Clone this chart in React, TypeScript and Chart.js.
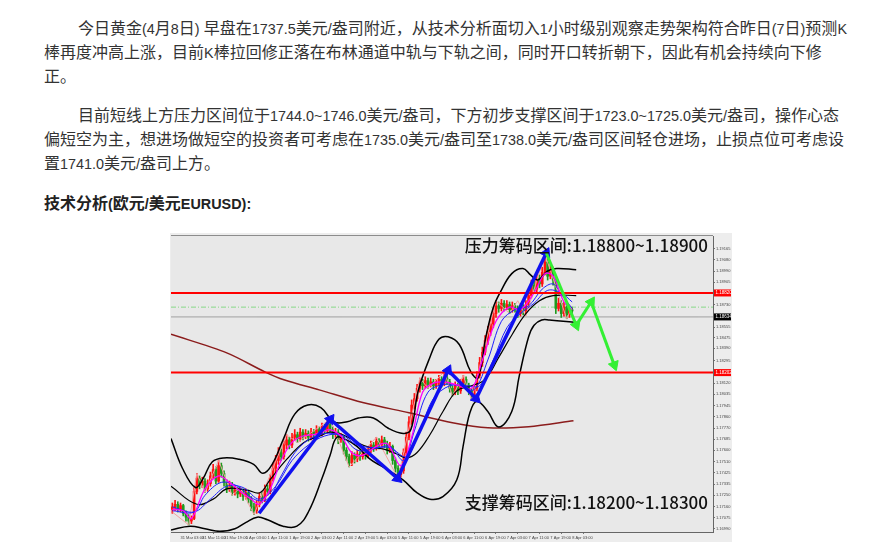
import React, { useEffect, useRef } from 'react';
import { Chart, registerables } from 'chart.js';

Chart.register(...registerables);

// ---------- page text ----------
const para1Lines = [
  '今日黄金(4月8日) 早盘在1737.5美元/盎司附近，从技术分析面切入1小时级别观察走势架构符合昨日(7日)预测K',
  '棒再度冲高上涨，目前K棒拉回修正落在布林通道中轨与下轨之间，同时开口转折朝下，因此有机会持续向下修',
  '正。',
];
const para2Lines = [
  '目前短线上方压力区间位于1744.0~1746.0美元/盎司，下方初步支撑区间于1723.0~1725.0美元/盎司，操作心态',
  '偏短空为主，想进场做短空的投资者可考虑在1735.0美元/盎司至1738.0美元/盎司区间轻仓进场，止损点位可考虑设',
  '置1741.0美元/盎司上方。',
];
const headingText = '技术分析(欧元/美元EURUSD):';
const resistanceText = '压力筹码区间:1.18800~1.18900';
const supportText = '支撑筹码区间:1.18200~1.18300';

// ---------- hourly candles (index 0 = 31 Mar 00:00) ----------
const candleOpen = [
  1.1714, 1.1716, 1.1718, 1.1714, 1.1717, 1.1711, 1.1708, 1.1705, 1.1707, 1.1728,
  1.1738, 1.1733, 1.1736, 1.1730, 1.1734, 1.1740, 1.1745, 1.1736, 1.1748, 1.1742,
  1.1735, 1.1730, 1.1733, 1.1727, 1.1729, 1.1726, 1.1728, 1.1724, 1.1727, 1.1722,
  1.1716, 1.1713, 1.1718, 1.1724, 1.1722, 1.1730, 1.1728, 1.1738, 1.1746, 1.1752,
  1.1758, 1.1755, 1.1764, 1.1768, 1.1764, 1.1770, 1.1772, 1.1769, 1.1774, 1.1771,
  1.1773, 1.1770, 1.1774, 1.1772, 1.1776, 1.1773, 1.1778, 1.1775, 1.1780, 1.1776,
  1.1772, 1.1774, 1.1768, 1.1770, 1.1760, 1.1755, 1.1750, 1.1756, 1.1753, 1.1757,
  1.1755, 1.1758, 1.1756, 1.1760, 1.1764, 1.1762, 1.1767, 1.1764, 1.1768, 1.1765,
  1.1760, 1.1763, 1.1752, 1.1746, 1.1741, 1.1744, 1.1758, 1.1770, 1.1782, 1.1795,
  1.1800, 1.1808, 1.1812, 1.1810, 1.1814, 1.1811, 1.1813, 1.1810, 1.1812, 1.1815,
  1.1812, 1.1816, 1.1813, 1.1808, 1.1805, 1.1810, 1.1806, 1.1812, 1.1815, 1.1810,
  1.1806, 1.1803, 1.1808, 1.1818, 1.1828, 1.1836, 1.1845, 1.1852, 1.1858, 1.1866,
  1.1872, 1.1870, 1.1874, 1.1871, 1.1873, 1.1869, 1.1872, 1.1870, 1.1866, 1.1871,
  1.1868, 1.1873, 1.1880, 1.1888, 1.1885, 1.1893, 1.1889, 1.1898, 1.1906, 1.1895,
  1.1900, 1.1892, 1.1870, 1.1874, 1.1866, 1.1871, 1.1865, 1.1869,
];
const candleClose = [
  1.1716, 1.1718, 1.1714, 1.1717, 1.1711, 1.1708, 1.1705, 1.1707, 1.1728, 1.1738,
  1.1733, 1.1736, 1.1730, 1.1734, 1.1740, 1.1745, 1.1736, 1.1748, 1.1742, 1.1735,
  1.1730, 1.1733, 1.1727, 1.1729, 1.1726, 1.1728, 1.1724, 1.1727, 1.1722, 1.1716,
  1.1713, 1.1718, 1.1724, 1.1722, 1.1730, 1.1728, 1.1738, 1.1746, 1.1752, 1.1758,
  1.1755, 1.1764, 1.1768, 1.1764, 1.1770, 1.1772, 1.1769, 1.1774, 1.1771, 1.1773,
  1.1770, 1.1774, 1.1772, 1.1776, 1.1773, 1.1778, 1.1775, 1.1780, 1.1776, 1.1772,
  1.1774, 1.1768, 1.1770, 1.1760, 1.1755, 1.1750, 1.1756, 1.1753, 1.1757, 1.1755,
  1.1758, 1.1756, 1.1760, 1.1764, 1.1762, 1.1767, 1.1764, 1.1768, 1.1765, 1.1760,
  1.1763, 1.1752, 1.1746, 1.1741, 1.1744, 1.1758, 1.1770, 1.1782, 1.1795, 1.1800,
  1.1808, 1.1812, 1.1810, 1.1814, 1.1811, 1.1813, 1.1810, 1.1812, 1.1815, 1.1812,
  1.1816, 1.1813, 1.1808, 1.1805, 1.1810, 1.1806, 1.1812, 1.1815, 1.1810, 1.1806,
  1.1803, 1.1808, 1.1818, 1.1828, 1.1836, 1.1845, 1.1852, 1.1858, 1.1866, 1.1872,
  1.1870, 1.1874, 1.1871, 1.1873, 1.1869, 1.1872, 1.1870, 1.1866, 1.1871, 1.1868,
  1.1873, 1.1880, 1.1888, 1.1885, 1.1893, 1.1889, 1.1898, 1.1906, 1.1895, 1.1900,
  1.1892, 1.1870, 1.1874, 1.1866, 1.1871, 1.1865, 1.1869, 1.1868,
];
const candleHigh = [
  1.1719, 1.1721, 1.1720, 1.1719, 1.1718, 1.1713, 1.1710, 1.1709, 1.1731, 1.1742,
  1.1740, 1.1739, 1.1738, 1.1737, 1.1743, 1.1749, 1.1747, 1.1752, 1.1750, 1.1744,
  1.1737, 1.1736, 1.1735, 1.1732, 1.1731, 1.1731, 1.1730, 1.1730, 1.1729, 1.1724,
  1.1719, 1.1721, 1.1727, 1.1727, 1.1733, 1.1733, 1.1741, 1.1750, 1.1756, 1.1762,
  1.1761, 1.1767, 1.1772, 1.1770, 1.1773, 1.1776, 1.1774, 1.1777, 1.1776, 1.1776,
  1.1775, 1.1777, 1.1776, 1.1779, 1.1778, 1.1781, 1.1780, 1.1784, 1.1783, 1.1778,
  1.1777, 1.1776, 1.1773, 1.1771, 1.1762, 1.1757, 1.1759, 1.1758, 1.1760, 1.1759,
  1.1761, 1.1760, 1.1763, 1.1767, 1.1766, 1.1770, 1.1769, 1.1771, 1.1770, 1.1767,
  1.1766, 1.1764, 1.1754, 1.1748, 1.1747, 1.1761, 1.1774, 1.1786, 1.1799, 1.1804,
  1.1811, 1.1816, 1.1815, 1.1817, 1.1816, 1.1816, 1.1815, 1.1815, 1.1818, 1.1817,
  1.1821, 1.1820, 1.1815, 1.1810, 1.1813, 1.1812, 1.1815, 1.1818, 1.1817, 1.1812,
  1.1808, 1.1811, 1.1821, 1.1832, 1.1840, 1.1849, 1.1856, 1.1862, 1.1870, 1.1876,
  1.1875, 1.1877, 1.1876, 1.1876, 1.1875, 1.1875, 1.1874, 1.1872, 1.1874, 1.1873,
  1.1876, 1.1884, 1.1892, 1.1891, 1.1897, 1.1896, 1.1902, 1.1912, 1.1908, 1.1904,
  1.1902, 1.1893, 1.1878, 1.1876, 1.1875, 1.1873, 1.1872, 1.1871,
];
const candleLow = [
  1.1711, 1.1713, 1.1712, 1.1712, 1.1709, 1.1705, 1.1702, 1.1703, 1.1706, 1.1726,
  1.1730, 1.1731, 1.1727, 1.1728, 1.1732, 1.1738, 1.1734, 1.1735, 1.1739, 1.1732,
  1.1727, 1.1728, 1.1725, 1.1725, 1.1723, 1.1724, 1.1721, 1.1722, 1.1719, 1.1713,
  1.1710, 1.1711, 1.1716, 1.1719, 1.1720, 1.1725, 1.1726, 1.1736, 1.1743, 1.1749,
  1.1752, 1.1753, 1.1761, 1.1761, 1.1762, 1.1768, 1.1766, 1.1767, 1.1768, 1.1769,
  1.1767, 1.1768, 1.1769, 1.1770, 1.1771, 1.1771, 1.1773, 1.1774, 1.1774, 1.1769,
  1.1770, 1.1765, 1.1766, 1.1757, 1.1752, 1.1747, 1.1748, 1.1750, 1.1751, 1.1752,
  1.1753, 1.1753, 1.1754, 1.1758, 1.1759, 1.1760, 1.1761, 1.1762, 1.1762, 1.1757,
  1.1758, 1.1749, 1.1743, 1.1738, 1.1739, 1.1742, 1.1756, 1.1768, 1.1780, 1.1792,
  1.1798, 1.1805, 1.1807, 1.1808, 1.1808, 1.1809, 1.1807, 1.1808, 1.1810, 1.1809,
  1.1810, 1.1811, 1.1805, 1.1802, 1.1803, 1.1803, 1.1804, 1.1810, 1.1807, 1.1803,
  1.1799, 1.1801, 1.1806, 1.1816, 1.1825, 1.1834, 1.1842, 1.1849, 1.1855, 1.1863,
  1.1867, 1.1868, 1.1868, 1.1869, 1.1866, 1.1867, 1.1867, 1.1863, 1.1864, 1.1865,
  1.1866, 1.1871, 1.1878, 1.1882, 1.1883, 1.1886, 1.1887, 1.1896, 1.1892, 1.1893,
  1.1888, 1.1866, 1.1868, 1.1863, 1.1864, 1.1862, 1.1863, 1.1865,
];

// ---------- axes ----------
const timeTickIndex = [3, 11, 19, 27, 35, 43, 51, 59, 67, 75, 83, 91, 99, 107, 115, 123, 131, 139, 147];
const timeTickLabels = [
  '31 Mar 03:00', '31 Mar 11:00', '31 Mar 19:00', '1 Apr 03:00', '1 Apr 11:00', '1 Apr 19:00',
  '2 Apr 03:00', '2 Apr 11:00', '2 Apr 19:00', '5 Apr 03:00', '5 Apr 11:00', '5 Apr 19:00',
  '6 Apr 03:00', '6 Apr 11:00', '6 Apr 19:00', '7 Apr 03:00', '7 Apr 11:00', '7 Apr 19:00', '8 Apr 03:00',
];
const priceTicks = [
  1.1699, 1.17075, 1.1716, 1.1725, 1.17335, 1.17425, 1.1751, 1.176, 1.17685, 1.1777,
  1.1786, 1.17945, 1.18035, 1.1812, 1.18208, 1.18295, 1.1839, 1.18475, 1.18555, 1.1864,
  1.1873, 1.1882, 1.18905, 1.1899, 1.1908, 1.19165,
];
const priceMin = 1.16965;
const priceMax = 1.19262;
const indexMin = -0.5;
const indexMax = 198.8;

// ---------- indicators (index, price) ----------
const bollUpper = [
  [-0.5, 1.1769], [3.7, 1.1746], [8.5, 1.1731], [11.3, 1.1738], [14.7, 1.1751], [18.9, 1.1754],
  [24.4, 1.1753], [29.9, 1.1749], [33.3, 1.1742], [36.7, 1.1749], [40.9, 1.1769], [45, 1.1788],
  [49.8, 1.1795], [54.6, 1.1793], [59.4, 1.1782], [64.3, 1.1782], [68.4, 1.1785], [73.9, 1.1785],
  [79.4, 1.1777], [84.9, 1.1773], [87.7, 1.1776], [90.4, 1.1806], [94.5, 1.1831], [98, 1.1846],
  [101.4, 1.1848], [105.5, 1.1842], [109.7, 1.1821], [112.4, 1.1816], [115.2, 1.1847],
  [117.9, 1.187], [120.7, 1.1883], [124.8, 1.1897], [128.9, 1.1901], [131.7, 1.1896],
  [134.4, 1.1892], [137.9, 1.1899], [141.3, 1.1901], [148.5, 1.19],
];
const bollMiddle = [
  [-0.5, 1.1732], [9, 1.1718], [15, 1.1722], [20, 1.173], [27.4, 1.1729], [32.2, 1.1727],
  [35.9, 1.1737], [42.1, 1.1753], [48.4, 1.1766], [54.3, 1.1771], [58, 1.1774], [62.7, 1.1772],
  [67.9, 1.1766], [72.7, 1.1762], [77.4, 1.1761], [82.6, 1.1757], [86.2, 1.1754], [89.9, 1.1758],
  [94.7, 1.1772], [99.5, 1.179], [104.6, 1.1806], [110, 1.181], [115, 1.1815], [120, 1.1832],
  [125, 1.185], [130, 1.1866], [135, 1.1876], [140, 1.188], [148.5, 1.188],
];
const bollLower = [
  [-0.5, 1.1698], [6.5, 1.1701], [12, 1.1699], [17.5, 1.1697], [23, 1.1699], [27.1, 1.1704],
  [31.2, 1.1708], [35, 1.1706], [40.7, 1.1701], [45.8, 1.1701], [50, 1.1712], [55, 1.1738],
  [58, 1.1756], [60.5, 1.177], [64, 1.1768], [67.9, 1.1763], [72.7, 1.1753], [77.4, 1.1747],
  [84.8, 1.1737], [89.9, 1.1727], [94.7, 1.1722], [99.5, 1.1724], [104.6, 1.1737], [106.9, 1.1763],
  [109.4, 1.1789], [112, 1.1798], [116, 1.179], [120, 1.1778], [124.8, 1.179], [127.6, 1.1818],
  [131, 1.1848], [133, 1.1857], [135.8, 1.1861], [138.6, 1.1861], [148.5, 1.1859],
];
const maFast = [
  [0, 1.1714], [4, 1.1713], [7, 1.1707], [12, 1.173], [17, 1.174], [21, 1.1735], [25, 1.1728],
  [29, 1.1722], [32, 1.1718], [36, 1.173], [40, 1.1752], [44, 1.1766], [48, 1.1771], [52, 1.1772],
  [56, 1.1775], [58, 1.1776], [62, 1.1771], [66, 1.1758], [70, 1.1756], [75, 1.1763], [79, 1.1765],
  [84, 1.1748], [88, 1.177], [92, 1.1805], [96, 1.1812], [100, 1.1813], [104, 1.1811], [110, 1.1808],
  [114, 1.183], [119, 1.186], [124, 1.1871], [128, 1.1869], [133, 1.1882], [137, 1.1897],
  [140, 1.1895], [144, 1.1875], [147, 1.1869],
];
const maBlue1 = [
  [0, 1.1713], [8, 1.1712], [12, 1.1725], [18, 1.1735], [24, 1.1732], [30, 1.1722], [35, 1.1722],
  [40, 1.174], [45, 1.1758], [50, 1.1768], [56, 1.1773], [62, 1.1771], [68, 1.176], [74, 1.1761],
  [80, 1.1763], [85, 1.1752], [89, 1.1775], [94, 1.1805], [100, 1.1811], [106, 1.181], [111, 1.1807],
  [116, 1.183], [121, 1.186], [126, 1.1869], [131, 1.1872], [136, 1.1885], [140, 1.1889],
  [143, 1.1881], [147, 1.187],
];
const maBlue2 = [
  [0, 1.1716], [8, 1.1712], [14, 1.1722], [20, 1.1732], [26, 1.1731], [32, 1.1722], [38, 1.1732],
  [44, 1.1752], [50, 1.1764], [56, 1.1771], [62, 1.1772], [68, 1.1764], [74, 1.1762], [80, 1.1762],
  [86, 1.1755], [91, 1.1775], [96, 1.18], [102, 1.181], [108, 1.181], [113, 1.181], [118, 1.183],
  [123, 1.1855], [128, 1.1866], [133, 1.1874], [138, 1.1884], [143, 1.1882], [147, 1.1875],
];
const maLong = [
  [-0.5, 1.185], [20, 1.18355], [34, 1.18208], [41, 1.18146], [54, 1.18068], [70, 1.1797],
  [87, 1.1789], [103, 1.17813], [116, 1.17774], [131, 1.17782], [147.5, 1.17828],
];
const zigzag = [
  [0, 1.1712], [6, 1.1702], [9, 1.1742], [12, 1.1727], [17, 1.1752], [22, 1.1725], [25, 1.1731],
  [30, 1.171], [42, 1.1772], [46, 1.1766], [58, 1.1784], [65, 1.1747], [75, 1.177], [83, 1.1738],
  [91, 1.1816], [94, 1.1808], [100, 1.1821], [103, 1.1802], [107, 1.1818], [110, 1.1799],
  [119, 1.1876], [124, 1.1866], [127, 1.1876], [130, 1.1864], [137, 1.1912], [145, 1.1862], [147, 1.1871],
];

// ---------- drawn arrows ----------
const blueArrows = [
  [[31.9, 1.1711], [58.1, 1.1784]],
  [[58.1, 1.1784], [82.8, 1.1738]],
  [[82.8, 1.1738], [101.4, 1.1822]],
  [[101.4, 1.1822], [111.7, 1.18]],
  [[111.7, 1.18], [137.5, 1.1913]],
];
const greenArrows = [
  [[137.5, 1.1913], [148.5, 1.1857]],
  [[148.5, 1.1857], [154, 1.1875]],
  [[154, 1.1875], [162.5, 1.1826]],
];

// ---------- horizontal levels ----------
const resistanceLine = 1.1882;
const supportLine = 1.18202;
const bidLine = 1.18634;
const dashLine = 1.1871;
const priceTags = [
  { value: 1.1882, text: '1.18820', color: '#ff0000' },
  { value: 1.18202, text: '1.18202', color: '#ff0000' },
  { value: 1.18634, text: '1.18634', color: '#000000' },
];

const PLOT_BG = '#e8e8e8';
const OUTER_BG = '#ededed';
const BULL = '#ff1010';
const BEAR = '#1e9a1e';

const pts = (arr: number[][]) => arr.map(([x, y]) => ({ x, y }));

function arrowRotation(ctx: any) {
  const data = ctx.dataset.data;
  const i = ctx.dataIndex;
  if (i === 0) return 0;
  const xs = ctx.chart.scales.x;
  const ys = ctx.chart.scales.y;
  const a = data[i - 1];
  const b = data[i];
  const dx = xs.getPixelForValue(b.x) - xs.getPixelForValue(a.x);
  const dy = ys.getPixelForValue(b.y) - ys.getPixelForValue(a.y);
  return (Math.atan2(dx, -dy) * 180) / Math.PI;
}

function lineDs(data: any[], color: string, width: number, order: number, tension = 0, extra: any = {}) {
  return {
    type: 'line',
    data,
    borderColor: color,
    backgroundColor: color,
    borderWidth: width,
    pointRadius: 0,
    pointHoverRadius: 0,
    tension,
    fill: false,
    order,
    ...extra,
  };
}

function arrowDs(path: number[][], color: string, order: number, width: number) {
  return lineDs(pts(path), color, width, order, 0, {
    pointRadius: [0, 6],
    pointStyle: 'triangle',
    pointRotation: arrowRotation,
    pointBackgroundColor: color,
    pointBorderColor: color,
    pointBorderWidth: 1,
  });
}

function levelDs(value: number, color: string, width: number, order: number, extra: any = {}) {
  return lineDs([{ x: indexMin, y: value }, { x: indexMax, y: value }], color, width, order, 0, extra);
}

const decorPlugin = {
  id: 'decor',
  beforeDraw(chart: any) {
    const { ctx, chartArea: a, width, height } = chart;
    ctx.save();
    ctx.fillStyle = OUTER_BG;
    ctx.fillRect(0, 0, width, height);
    ctx.fillStyle = PLOT_BG;
    ctx.fillRect(a.left, a.top, a.right - a.left, a.bottom - a.top);
    ctx.restore();
  },
  afterDraw(chart: any) {
    const { ctx, chartArea: a } = chart;
    const ys = chart.scales.y;
    ctx.save();
    ctx.strokeStyle = '#8c8c8c';
    ctx.lineWidth = 1;
    ctx.beginPath();
    ctx.moveTo(a.left, a.top - 0.5);
    ctx.lineTo(a.right, a.top - 0.5);
    ctx.stroke();
    priceTags.forEach((t) => {
      const y = ys.getPixelForValue(t.value);
      ctx.fillStyle = t.color;
      ctx.fillRect(a.right + 1, y - 3.5, 17, 7);
      ctx.fillStyle = '#ffffff';
      ctx.font = '4.5px "Liberation Sans"';
      ctx.textAlign = 'left';
      ctx.textBaseline = 'middle';
      ctx.fillText(t.text, a.right + 2.5, y + 0.3);
    });
    ctx.fillStyle = '#111111';
    ctx.font = '500 17px "Noto Sans CJK SC"';
    ctx.textAlign = 'right';
    ctx.textBaseline = 'middle';
    ctx.fillText(resistanceText, a.right - 5, a.top + 10);
    ctx.fillText(supportText, a.right - 5, a.bottom - 29.5);
    ctx.restore();
  },
};

const candleColor = (ctx: any) =>
  candleClose[ctx.dataIndex] >= candleOpen[ctx.dataIndex] ? BULL : BEAR;

function buildConfig(): any {
  const wickData = candleHigh.map((h, i) => ({ x: i, y: [candleLow[i], h] }));
  const bodyData = candleOpen.map((o, i) => ({ x: i, y: [o, candleClose[i]] }));
  const datasets: any[] = [
    ...greenArrows.map((p) => arrowDs(p, '#33f033', 0, 3)),
    ...blueArrows.map((p) => arrowDs(p, '#1010f0', 1, 3.5)),
    levelDs(resistanceLine, '#ff0000', 2, 2),
    levelDs(supportLine, '#ff0000', 2, 2),
    lineDs(pts(maFast), '#ff00ff', 1.3, 3, 0.35),
    lineDs(pts(maBlue1), '#2020ff', 1, 4, 0.35),
    lineDs(pts(maBlue2), '#2020ff', 1, 4, 0.35),
    lineDs(pts(bollUpper), '#000000', 1.5, 5, 0.4),
    lineDs(pts(bollMiddle), '#000000', 1.2, 5, 0.4),
    lineDs(pts(bollLower), '#000000', 1.5, 5, 0.4),
    lineDs(pts(maLong), '#8b1c1c', 1.5, 6, 0.3),
    lineDs(pts(zigzag), '#f2a0a0', 1, 7, 0),
    {
      type: 'bar',
      data: bodyData,
      backgroundColor: candleColor,
      borderWidth: 0,
      barThickness: 2,
      grouped: false,
      minBarLength: 1,
      order: 8,
    },
    {
      type: 'bar',
      data: wickData,
      backgroundColor: candleColor,
      borderWidth: 0,
      barThickness: 1,
      grouped: false,
      order: 9,
    },
    levelDs(dashLine, '#86d886', 1, 10, { borderDash: [5, 2, 1, 2] }),
    levelDs(bidLine, '#a0a0a0', 1, 11),
  ];

  return {
    type: 'line',
    data: { datasets },
    plugins: [decorPlugin],
    options: {
      animation: false,
      responsive: false,
      devicePixelRatio: 1,
      events: [],
      layout: { autoPadding: false, padding: { left: 1, top: 3, right: 0, bottom: 0 } },
      plugins: { legend: { display: false }, tooltip: { enabled: false } },
      scales: {
        x: {
          type: 'linear',
          min: indexMin,
          max: indexMax,
          position: 'bottom',
          offset: false,
          afterBuildTicks: (scale: any) => {
            scale.ticks = timeTickIndex.map((v) => ({ value: v }));
          },
          afterFit: (scale: any) => {
            scale.height = 10;
            scale.paddingLeft = 0;
            scale.paddingRight = 0;
          },
          ticks: {
            autoSkip: false,
            maxRotation: 0,
            minRotation: 0,
            align: 'start',
            padding: 1,
            color: '#444',
            font: { size: 4, family: 'Liberation Sans' },
            callback: (v: number) => {
              const k = timeTickIndex.indexOf(v);
              return k >= 0 ? timeTickLabels[k] : '';
            },
          },
          grid: { display: true, drawOnChartArea: false, tickLength: 2, color: '#777' },
          border: { display: true, color: '#666', width: 1 },
        },
        y: {
          type: 'linear',
          position: 'right',
          min: priceMin,
          max: priceMax,
          afterBuildTicks: (scale: any) => {
            scale.ticks = priceTicks.map((v) => ({ value: v }));
          },
          afterFit: (scale: any) => {
            scale.width = 19;
            scale.paddingTop = 0;
            scale.paddingBottom = 0;
          },
          ticks: {
            autoSkip: false,
            padding: 1,
            color: '#444',
            font: { size: 4, family: 'Liberation Sans' },
            callback: (v: number) => v.toFixed(5),
          },
          grid: { display: true, drawOnChartArea: false, tickLength: 2, color: '#777' },
          border: { display: true, color: '#666', width: 1 },
        },
      },
    },
  };
}

const CJK_FONT = '"Noto Sans CJK SC", sans-serif';
const LATIN_FONT = '"Liberation Sans", Arial, sans-serif';

function renderMixed(text: string) {
  const parts = text.split(/([\x20-\x7e]+)/);
  return parts.map((p, k) =>
    /^[\x20-\x7e]+$/.test(p) ? (
      <span key={k} style={{ fontFamily: LATIN_FONT, fontSize: 14.4 }}>
        {p}
      </span>
    ) : (
      <span key={k}>{p}</span>
    ),
  );
}

function TextLine({ text, x, cy, bold }: { text: string; x: number; cy: number; bold?: boolean }) {
  return (
    <div
      style={{
        position: 'absolute',
        left: x,
        top: cy - 12.5,
        height: 24,
        lineHeight: '24px',
        whiteSpace: 'pre',
        fontSize: 16,
        fontFamily: CJK_FONT,
        fontWeight: bold ? 700 : 400,
        color: bold ? '#222' : '#333',
      }}
    >
      {renderMixed(text)}
    </div>
  );
}

export default function App() {
  const canvasRef = useRef<HTMLCanvasElement>(null);
  useEffect(() => {
    const canvas = canvasRef.current;
    if (!canvas) return;
    const chart = new Chart(canvas, buildConfig());
    return () => chart.destroy();
  }, []);

  return (
    <div
      style={{
        position: 'absolute',
        left: 0,
        top: 0,
        width: 896,
        height: 549,
        overflow: 'hidden',
        background: '#ffffff',
      }}
    >
      <TextLine text={para1Lines[0]} x={78} cy={27} />
      <TextLine text={para1Lines[1]} x={44} cy={51} />
      <TextLine text={para1Lines[2]} x={44} cy={75} />
      <TextLine text={para2Lines[0]} x={78} cy={114.5} />
      <TextLine text={para2Lines[1]} x={44} cy={138.7} />
      <TextLine text={para2Lines[2]} x={44} cy={162.8} />
      <TextLine text={headingText} x={44} cy={202.5} bold />
      <div style={{ position: 'absolute', left: 170, top: 233, width: 562, height: 309 }}>
        <canvas ref={canvasRef} width={562} height={309} style={{ display: 'block', width: 562, height: 309 }} />
      </div>
    </div>
  );
}
